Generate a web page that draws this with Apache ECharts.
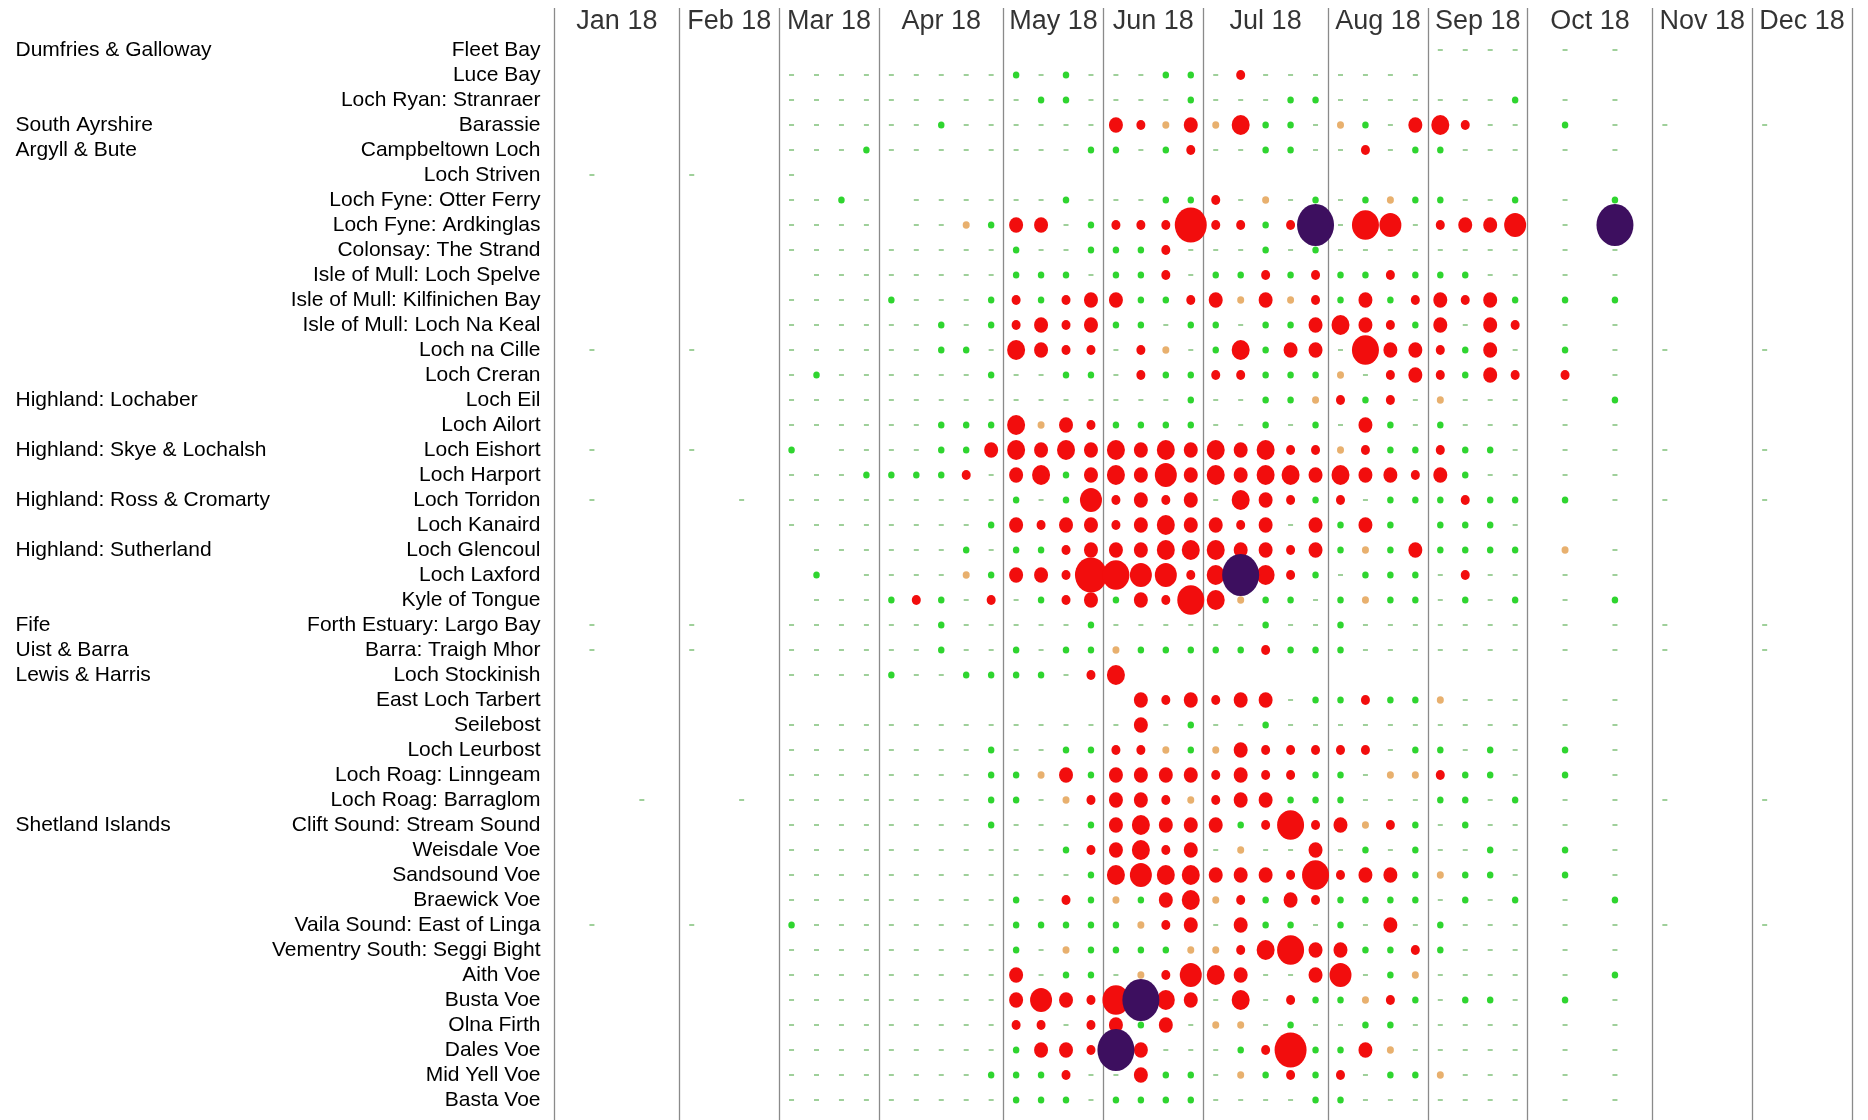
<!DOCTYPE html>
<html>
<head>
<meta charset="utf-8">
<script src="https://cdn.jsdelivr.net/npm/echarts@6/dist/echarts.min.js"></script>
<style>
html, body { margin: 0; padding: 0; background: #fff; }
#chart { width: 1868px; height: 1120px; }
</style>
</head>
<body>
<div id="chart"></div>
<script>
// month headers and how many weekly samples each month holds
var months = ['Jan 18', 'Feb 18', 'Mar 18', 'Apr 18', 'May 18', 'Jun 18',
              'Jul 18', 'Aug 18', 'Sep 18', 'Oct 18', 'Nov 18', 'Dec 18'];
var monthWeeks = [5, 4, 4, 5, 4, 4, 5, 4, 4, 5, 4, 4];

var sites = [
    'Fleet Bay', 'Luce Bay', 'Loch Ryan: Stranraer', 'Barassie', 'Campbeltown Loch',
    'Loch Striven', 'Loch Fyne: Otter Ferry', 'Loch Fyne: Ardkinglas', 'Colonsay: The Strand',
    'Isle of Mull: Loch Spelve', 'Isle of Mull: Kilfinichen Bay', 'Isle of Mull: Loch Na Keal',
    'Loch na Cille', 'Loch Creran', 'Loch Eil', 'Loch Ailort', 'Loch Eishort', 'Loch Harport',
    'Loch Torridon', 'Loch Kanaird', 'Loch Glencoul', 'Loch Laxford', 'Kyle of Tongue',
    'Forth Estuary: Largo Bay', 'Barra: Traigh Mhor', 'Loch Stockinish', 'East Loch Tarbert',
    'Seilebost', 'Loch Leurbost', 'Loch Roag: Linngeam', 'Loch Roag: Barraglom',
    'Clift Sound: Stream Sound', 'Weisdale Voe', 'Sandsound Voe', 'Braewick Voe',
    'Vaila Sound: East of Linga', 'Vementry South: Seggi Bight', 'Aith Voe', 'Busta Voe',
    'Olna Firth', 'Dales Voe', 'Mid Yell Voe', 'Basta Voe'
];

// region name shown on the first site of each region
var regionStart = {
    'Fleet Bay': 'Dumfries & Galloway',
    'Barassie': 'South Ayrshire',
    'Campbeltown Loch': 'Argyll & Bute',
    'Loch Eil': 'Highland: Lochaber',
    'Loch Eishort': 'Highland: Skye & Lochalsh',
    'Loch Torridon': 'Highland: Ross & Cromarty',
    'Loch Glencoul': 'Highland: Sutherland',
    'Forth Estuary: Largo Bay': 'Fife',
    'Barra: Traigh Mhor': 'Uist & Barra',
    'Loch Stockinish': 'Lewis & Harris',
    'Clift Sound: Stream Sound': 'Shetland Islands'
};

// weekly result level per site, grouped by month (Jan..Dec)
// . = no sample, 0 = not detected, 1 = present, 2 = elevated,
// 3..8 = above threshold (rising), 9 = very high
var weekly = [
    '..... .... .... ..... .... .... ..... .... 0000 .0.0. .... ....',
    '..... .... 0000 00000 1010 0011 03000 0000 .... ..... .... ....',
    '..... .... 0000 00000 0110 0001 00011 0000 0001 .0.0. .... ....',
    '..... .... 0000 00100 0000 4324 25110 2104 5300 .1.0. 0... 0...',
    '..... .... 0001 00000 0001 1013 00110 0301 1000 .0.0. .... ....',
    '.0... 0... 0... ..... .... .... ..... .... .... ..... .... ....',
    '..... .... 0010 .0000 0010 0011 30201 0121 1001 .0.1. .... ....',
    '..... .... 0000 .0021 4401 3338 33139 0760 3446 .0.9. .... ....',
    '..... .... 0000 00000 1001 1130 00101 0000 0000 .0.0. .... ....',
    '..... .... .000 00000 1110 1130 11313 1131 1100 .0.0. .... ....',
    '..... .... 0000 10001 3134 4113 42423 1413 4341 .1.1. .... ....',
    '..... .... 0000 00101 3434 1101 10114 5431 4043 .0.0. .... ....',
    '.0... 0... 0000 00110 5433 0320 15144 0744 3140 .1.0. 0... 0...',
    '..... .... 0100 00001 0011 0311 33111 2034 3143 .3.0. .... ....',
    '..... .... 0000 00000 0000 0001 00112 3130 2000 .0.1. .... ....',
    '..... .... 0000 00111 5243 1111 00101 0410 1000 .0.0. .... ....',
    '.0... 0... 1.00 00114 5454 5454 54533 2311 3110 .0.0. 0... 0...',
    '..... .... 0001 11130 4514 5464 54554 5443 4100 .0.0. .... ....',
    '.0... ..0. 0000 00000 1016 3434 05431 3011 1311 .1.0. 0... 0...',
    '..... .... 0000 00001 4344 3454 43404 141. 1110 ..... .... ....',
    '..... .... .000 00010 1134 4455 54434 1214 1111 .2.0. .... ....',
    '..... .... .1.0 00021 4438 7663 59531 0111 0300 .0.0. .... ....',
    '..... .... .000 13103 0134 1437 52110 1211 0101 .0.1. .... ....',
    '.0... 0... 0000 00100 0001 0000 00100 1000 0000 .0.0. 0... 0...',
    '.0... 0... 0000 00100 1011 2111 11311 1000 0000 .0.0. 0... 0...',
    '..... .... 0000 10011 1103 5... ..... .... .... ..... .... ....',
    '..... .... .... ..... .... .434 34401 1311 2000 .0.0. .... ....',
    '..... .... 0000 00000 0000 0401 00100 0000 0000 .0.0. .... ....',
    '..... .... 0000 00001 0011 3321 24333 3301 1010 .1.0. .... ....',
    '..... .... 0000 00001 1241 4444 34331 1022 3110 .1.0. .... ....',
    '...0. ..0. 0000 00001 1023 4432 34411 1000 1101 .0.0. 0... 0...',
    '..... .... 0000 00001 0001 4544 41373 4231 0100 .0.0. .... ....',
    '..... .... 0000 00000 0013 4534 02004 0101 0010 .1.0. .... ....',
    '..... .... 0000 00000 0001 5655 44437 3441 2110 .1.0. .... ....',
    '..... .... 0000 00000 1031 2145 23143 1111 0101 .0.1. .... ....',
    '.0... 0... 1000 00000 1111 1234 04110 1040 1000 .0.0. 0... 0...',
    '..... .... 0000 00000 1021 1112 23574 4113 1000 .0.0. .... ....',
    '..... .... 0000 00000 4011 0236 54004 6012 0000 .0.1. .... ....',
    '..... .... 0000 00000 4643 7954 05031 1231 0110 .1.0. .... ....',
    '..... .... 0000 00000 3303 4140 22010 0110 0000 .0.0. .... ....',
    '..... .... 0000 00000 1443 9400 01381 1420 0000 .0.0. .... ....',
    '..... .... 0000 00001 1130 0411 02131 3011 2000 .0.0. .... ....',
    '..... .... 0000 00000 1110 1111 00001 1000 0000 .0.0. .... ....'
];

// marker diameter for each red level
var redSize = {3: 9, 4: 14, 5: 18, 6: 22, 7: 27, 8: 32};

var FONT = '"Liberation Sans", Arial, sans-serif';

// week categories (Mondays of 2018)
var weeks = [];
for (var w = 0; w < 52; w++) {
    var d = new Date(Date.UTC(2018, 0, 1 + 7 * w));
    weeks.push(d.toISOString().slice(0, 10));
}

// split each cell into its marker group
var dashData = [], greenData = [], orangeData = [], redData = [], purpleData = [];
for (var r = 0; r < weekly.length; r++) {
    var row = weekly[r].replace(/ /g, '');
    for (var k = 0; k < row.length; k++) {
        var c = row.charAt(k);
        if (c === '.') continue;
        var lv = parseInt(c, 10);
        var item = [k, r, lv];
        if (lv === 0) dashData.push(item);
        else if (lv === 1) greenData.push(item);
        else if (lv === 2) orangeData.push(item);
        else if (lv === 9) purpleData.push(item);
        else redData.push(item);
    }
}

// month boundaries and centres in week units
var bounds = [0], centres = [];
for (var m = 0; m < monthWeeks.length; m++) {
    centres.push({value: [bounds[m] + monthWeeks[m] / 2, 0.5], name: months[m]});
    bounds.push(bounds[m] + monthWeeks[m]);
}

var chart = echarts.init(document.getElementById('chart'));
chart.setOption({
    animation: false,
    backgroundColor: '#fff',
    grid: [
        {left: 554.5, right: 16, top: 37.5, bottom: 7.5},
        {left: 554.5, right: 16, top: 8, bottom: 0},
        {left: 554.5, right: 16, top: 2, height: 40}
    ],
    xAxis: [
        {type: 'category', gridIndex: 0, data: weeks, show: false, boundaryGap: true},
        {type: 'value', gridIndex: 1, min: 0, max: 52, show: false},
        {type: 'value', gridIndex: 2, min: 0, max: 52, show: false}
    ],
    yAxis: [
        {
            type: 'category', gridIndex: 0, data: sites, inverse: true,
            axisLine: {show: false}, axisTick: {show: false}, splitLine: {show: false},
            axisLabel: {interval: 0, margin: 14, fontSize: 21, color: '#000', fontFamily: FONT}
        },
        {
            type: 'category', gridIndex: 0, data: sites, inverse: true, position: 'left',
            axisLine: {show: false}, axisTick: {show: false}, splitLine: {show: false},
            axisLabel: {
                interval: 0, margin: 539, align: 'left', fontSize: 21, color: '#000', fontFamily: FONT,
                formatter: function (v) { return regionStart[v] || ''; }
            }
        },
        {type: 'value', gridIndex: 1, min: 0, max: 1, show: false},
        {type: 'value', gridIndex: 2, min: 0, max: 1, show: false}
    ],
    series: [
        {
            type: 'scatter', xAxisIndex: 1, yAxisIndex: 2, data: [], silent: true, z: 1,
            markLine: {
                silent: true, symbol: ['none', 'none'],
                label: {show: false},
                lineStyle: {color: '#8a8a8a', width: 1.3, type: 'solid', opacity: 1},
                data: bounds.map(function (b) { return {xAxis: b}; })
            }
        },
        {
            type: 'scatter', xAxisIndex: 2, yAxisIndex: 3, data: centres, silent: true,
            symbolSize: 1, itemStyle: {color: 'rgba(0,0,0,0)'},
            label: {show: true, position: 'inside', formatter: '{b}', fontSize: 27,
                    color: '#000', fontFamily: FONT}
        },
        {
            name: 'not detected', type: 'scatter', data: dashData, z: 3,
            symbol: 'rect', symbolSize: [5, 2], itemStyle: {color: '#9fd09a', opacity: 1}
        },
        {
            name: 'present', type: 'scatter', data: greenData, z: 4,
            symbolSize: [6.5, 7], itemStyle: {color: '#2fd52f', opacity: 1}
        },
        {
            name: 'elevated', type: 'scatter', data: orangeData, z: 4,
            symbolSize: [7, 7.5], itemStyle: {color: '#e8b06e', opacity: 1}
        },
        {
            name: 'above threshold', type: 'scatter', data: redData, z: 5,
            symbolSize: function (v) { var s = redSize[v[2]]; return [s, s * 1.1]; },
            itemStyle: {color: '#f20d0d', opacity: 1}
        },
        {
            name: 'very high', type: 'scatter', data: purpleData, z: 6,
            symbolSize: [37, 42], itemStyle: {color: '#3d0f5f', opacity: 1}
        }
    ]
});
</script>
</body>
</html>
